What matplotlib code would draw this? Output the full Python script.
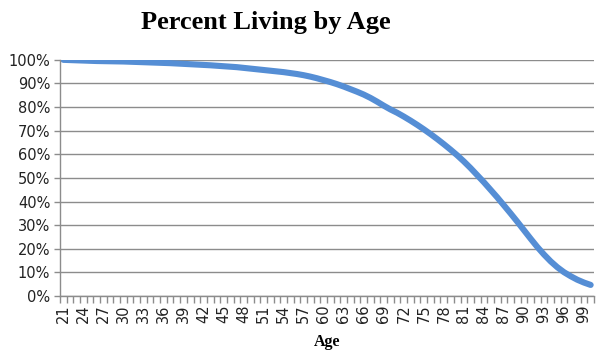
import matplotlib
matplotlib.use("Agg")
import matplotlib.pyplot as plt
import numpy as np
from matplotlib.ticker import FixedLocator, FuncFormatter

ages = list(range(21, 101))
pct_living = [
    100.0, 99.9, 99.8, 99.7, 99.6, 99.5, 99.45, 99.4, 99.35, 99.3,   # 21-30
    99.2, 99.1, 99.0, 98.9, 98.8, 98.7, 98.6, 98.45, 98.3, 98.15,    # 31-40
    98.0, 97.85, 97.7, 97.5, 97.3, 97.1, 96.9, 96.6, 96.3, 96.0,     # 41-50
    95.7, 95.4, 95.1, 94.8, 94.4, 94.0, 93.5, 92.9, 92.2, 91.4,      # 51-60
    90.6, 89.7, 88.7, 87.6, 86.5, 85.3, 83.9, 82.3, 80.6, 79.0,      # 61-70
    77.6, 76.0, 74.3, 72.5, 70.6, 68.6, 66.5, 64.3, 62.0, 59.6,      # 71-80
    57.0, 54.2, 51.2, 48.2, 45.0, 41.8, 38.4, 35.0, 31.5, 27.9,      # 81-90
    24.3, 20.8, 17.6, 14.7, 12.2, 10.1, 8.4, 6.9, 5.7, 4.7,          # 91-100
]
y_ticks = [0, 10, 20, 30, 40, 50, 60, 70, 80, 90, 100]
x_labels = list(range(21, 101, 3))

plt.rcParams["font.family"] = "DejaVu Sans"

fig = plt.figure(figsize=(6.0, 3.52), dpi=100)
ax = fig.add_axes([0.1, 0.159, 0.89, 0.671])

ax.plot(ages, pct_living, color="#558ED5", lw=4.4, solid_capstyle="round")

ax.set_xlim(20.5, 100.5)
ax.set_ylim(0, 100)
ax.set_yticks(y_ticks)
ax.yaxis.set_major_formatter(FuncFormatter(lambda v, p: f"{int(v)}%"))
ax.grid(axis="y", color="#8C8C8C", lw=1)
ax.set_axisbelow(True)

ax.xaxis.set_major_locator(FixedLocator(x_labels))
ax.xaxis.set_minor_locator(FixedLocator(np.arange(20.5, 101, 1)))
ax.tick_params(axis="x", which="major", length=0, pad=6, labelrotation=90,
               labelsize=10.5, labelcolor="#222222")
ax.tick_params(axis="x", which="minor", length=5, color="#8C8C8C", width=1)
ax.tick_params(axis="y", length=4, color="#8C8C8C", width=1, labelsize=10.5,
               labelcolor="#222222", pad=3)

for s in ["top", "right"]:
    ax.spines[s].set_visible(False)
for s in ["left", "bottom"]:
    ax.spines[s].set_color("#8C8C8C")
    ax.spines[s].set_linewidth(1)

fig.text(0.443, 0.935, "Percent Living by Age", ha="center", va="center",
         fontsize=19, fontweight="bold", family="Liberation Serif")
fig.text(0.545, 0.028, "Age", ha="center", va="center", fontsize=11.5,
         fontweight="bold", family="Liberation Serif")

fig.savefig("out.png", dpi=100, facecolor="white")
